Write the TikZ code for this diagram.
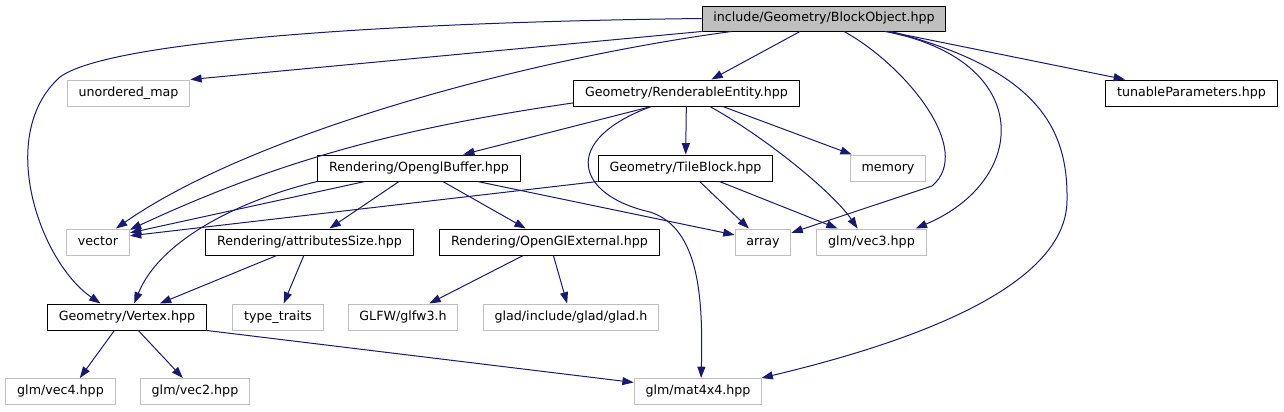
\documentclass[tikz,border=0pt]{standalone}
\usepackage{fontspec}
\setmainfont{DejaVu Sans}
\usepackage{tikz}
\usetikzlibrary{arrows.meta}
\definecolor{inclblue}{RGB}{25,25,112}
\definecolor{inclgray}{RGB}{191,191,191}

\begin{document}
\begin{tikzpicture}[
    x=0.75pt, y=-0.75pt,
    hfile/.style={rectangle, draw=black, line width=0.75pt, fill=white, inner xsep=8.5pt, inner ysep=0pt, minimum height=19.5pt, text height=7.2pt, text depth=2.2pt, font=\fontsize{9.5}{11}\selectfont},
    sysfile/.style={hfile, draw=inclgray},
    topfile/.style={hfile, fill=inclgray, minimum height=18.75pt},
    incl/.style={-{Triangle[length=8.5pt, width=6pt]}, line width=0.75pt, draw=inclblue}
  ]
    \useasboundingbox (0,0) rectangle (1284,411);

    \node[topfile] (root) at (824,18.5) {include/Geometry/BlockObject.hpp};

    \node[sysfile] (umap) at (128.5,93) {unordered\_map};
    \node[hfile] (rent) at (686.5,93) {Geometry/RenderableEntity.hpp};
    \node[hfile] (tune) at (1191.5,93) {tunableParameters.hpp};

    \node[hfile] (glbuf) at (419,168) {Rendering/OpenglBuffer.hpp};
    \node[hfile] (tile) at (685.5,168) {Geometry/TileBlock.hpp};
    \node[sysfile] (memory) at (888,168) {memory};

    \node[sysfile] (vector) at (98,242) {vector};
    \node[hfile] (attrsz) at (309.5,242) {Rendering/attributesSize.hpp};
    \node[hfile] (glext) at (549.5,242) {Rendering/OpenGlExternal.hpp};
    \node[sysfile] (array) at (763,242) {array};
    \node[sysfile] (vecthree) at (871.5,242) {glm/vec3.hpp};

    \node[hfile] (vertex) at (127,317) {Geometry/Vertex.hpp};
    \node[sysfile] (traits) at (278,317) {type\_traits};
    \node[sysfile] (glfw) at (403,317) {GLFW/glfw3.h};
    \node[sysfile] (glad) at (571,317) {glad/include/glad/glad.h};

    \node[sysfile] (vecfour) at (60.5,391.5) {glm/vec4.hpp};
    \node[sysfile] (vectwo) at (195,391.5) {glm/vec2.hpp};
    \node[sysfile] (matfour) at (698,391.5) {glm/mat4x4.hpp};

    \draw[incl] (root.south west) -- (umap.north east);
    \draw[incl] (root) -- (rent);
    \draw[incl] (root) -- (tune);
    \draw[incl] (root.188.5) .. controls (520,60) and (250,135) .. (vector.37);
    \draw[incl] (root.west) .. controls (400,22) and (110,40) .. (60,77) .. controls (-5,135) and (40,262) .. (vertex.153);
    \draw[incl] (root.-33) .. controls (905,65) and (975,150) .. (932,186) -- (array.18);
    \draw[incl] (root.-12) .. controls (1035,60) and (1030,180) .. (vecthree.17);
    \draw[incl] (root.-11) .. controls (1040,70) and (1068,130) .. (1067,200) .. controls (1067,290) and (900,345) .. (matfour.12);

    \draw[incl] (rent.201) -- (glbuf.17);
    \draw[incl] (rent) -- (tile);
    \draw[incl] (rent) -- (memory);
    \draw[incl] (rent.185) .. controls (400,128) and (280,160) .. (vector.21);
    \draw[incl] (rent.-30) .. controls (770,140) and (835,195) .. (vecthree.136);
    \draw[incl] (rent.201) .. controls (560,140) and (575,195) .. (650,212) .. controls (700,228) and (703,300) .. (matfour.77);

    \draw[incl] (glbuf.194) -- (vector.16);
    \draw[incl] (glbuf.south west) .. controls (240,200) and (160,240) .. (vertex.62);
    \draw[incl] (glbuf) -- (attrsz);
    \draw[incl] (glbuf) -- (glext);
    \draw[incl] (glbuf.-13.5) -- (array.166);

    \draw[incl] (tile.south west) -- (vector.11);
    \draw[incl] (tile) -- (array);
    \draw[incl] (tile) -- (vecthree);

    \draw[incl] (attrsz) -- (vertex);
    \draw[incl] (attrsz) -- (traits);
    \draw[incl] (glext) -- (glfw);
    \draw[incl] (glext) -- (glad);

    \draw[incl] (vertex.-133) -- (vecfour.35);
    \draw[incl] (vertex.-50) -- (vectwo.132);
    \draw[incl] (vertex.south east) -- (matfour.172);
\end{tikzpicture}
\end{document}
